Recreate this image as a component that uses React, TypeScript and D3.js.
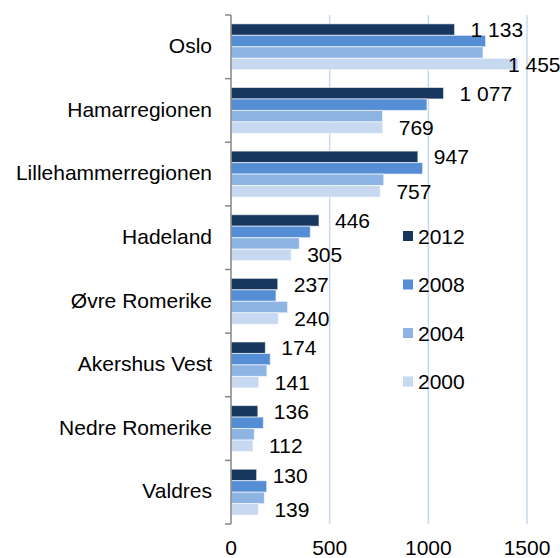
import React, { useRef, useEffect } from "react";
import * as d3 from "d3";

const categories = [
  "Oslo",
  "Hamarregionen",
  "Lillehammerregionen",
  "Hadeland",
  "Øvre Romerike",
  "Akershus Vest",
  "Nedre Romerike",
  "Valdres",
];
const seriesNames = ["2012", "2008", "2004", "2000"];
const values2012 = [1133, 1077, 947, 446, 237, 174, 136, 130];
const values2008 = [1290, 993, 971, 402, 228, 199, 164, 181];
const values2004 = [1277, 768, 774, 346, 287, 182, 118, 169];
const values2000 = [1455, 769, 757, 305, 240, 141, 112, 139];
const colors = ["#17375E", "#558ED5", "#8EB4E3", "#C6D9F1"];
const xTicks = [0, 500, 1000, 1500];

const W = 560;
const H = 558;
const FONT = "'Liberation Sans', Arial, sans-serif";

const App = () => {
  const svgRef = useRef<SVGSVGElement>(null);

  useEffect(() => {
    const svg = d3.select(svgRef.current);
    svg.selectAll("*").remove();

    const margin = { top: 15, right: 33, bottom: 34, left: 231 };
    const allSeries = [values2012, values2008, values2004, values2000];

    const x = d3
      .scaleLinear()
      .domain([0, 1500])
      .range([margin.left, W - margin.right]);

    const y = d3
      .scaleBand()
      .domain(categories)
      .range([margin.top, H - margin.bottom])
      .padding(0);

    const y1 = d3
      .scaleBand()
      .domain(seriesNames)
      .range([0, y.bandwidth()])
      .paddingInner(0)
      .paddingOuter(0.77);

    // gridlines
    svg
      .append("g")
      .selectAll("line")
      .data(xTicks.filter((t) => t > 0))
      .join("line")
      .attr("x1", (d) => x(d))
      .attr("x2", (d) => x(d))
      .attr("y1", margin.top)
      .attr("y2", H - margin.bottom)
      .attr("stroke", "#C6D9F1")
      .attr("stroke-width", 1.5);

    // bars
    const groups = svg
      .append("g")
      .selectAll("g")
      .data(categories)
      .join("g")
      .attr("transform", (d) => `translate(0,${y(d)})`);

    groups
      .selectAll("rect")
      .data((d, i) => seriesNames.map((s, j) => ({ s, j, v: allSeries[j][i] })))
      .join("rect")
      .attr("x", x(0))
      .attr("y", (d) => y1(d.s)!)
      .attr("width", (d) => x(d.v) - x(0))
      .attr("height", y1.bandwidth())
      .attr("fill", (d) => colors[d.j])
      .attr("stroke", "rgba(255,255,255,0.6)")
      .attr("stroke-width", 1);

    // data labels for 2012 and 2000
    const fmt = (v: number) => d3.format(",")(v).replace(",", " ");
    [0, 3].forEach((j) => {
      svg
        .append("g")
        .selectAll("text")
        .data(categories)
        .join("text")
        .attr("x", (d, i) => Math.min(x(allSeries[j][i]) + 16, W - 52))
        .attr("y", (d) => y(d)! + y1(seriesNames[j])! + y1.bandwidth() / 2)
        .attr("dy", "0.36em")
        .attr("font-family", FONT)
        .attr("font-size", 21)
        .attr("fill", "#000")
        .text((d, i) => fmt(allSeries[j][i]));
    });

    // y axis line and boundary ticks
    const yAxis = svg.append("g");
    yAxis
      .append("line")
      .attr("x1", x(0))
      .attr("x2", x(0))
      .attr("y1", margin.top)
      .attr("y2", H - margin.bottom)
      .attr("stroke", "#868686")
      .attr("stroke-width", 1.5);
    yAxis
      .selectAll(".tick")
      .data([...categories.map((c) => y(c)!), H - margin.bottom])
      .join("line")
      .attr("class", "tick")
      .attr("x1", x(0) - 6)
      .attr("x2", x(0))
      .attr("y1", (d) => d)
      .attr("y2", (d) => d)
      .attr("stroke", "#868686")
      .attr("stroke-width", 1.5);

    // category labels
    svg
      .append("g")
      .selectAll("text")
      .data(categories)
      .join("text")
      .attr("x", x(0) - 19)
      .attr("y", (d) => y(d)! + y.bandwidth() / 2)
      .attr("dy", "0.3em")
      .attr("text-anchor", "end")
      .attr("font-family", FONT)
      .attr("font-size", 21)
      .attr("fill", "#000")
      .text((d) => d);

    // x tick labels
    svg
      .append("g")
      .selectAll("text")
      .data(xTicks)
      .join("text")
      .attr("x", (d) => x(d))
      .attr("y", H - 3)
      .attr("text-anchor", "middle")
      .attr("font-family", FONT)
      .attr("font-size", 21)
      .attr("fill", "#000")
      .text((d) => d);

    // legend
    const legend = svg
      .append("g")
      .selectAll("g")
      .data(seriesNames)
      .join("g")
      .attr("transform", (d, i) => `translate(403,${236 + i * 48.5})`);

    legend
      .append("rect")
      .attr("x", 0)
      .attr("y", -5)
      .attr("width", 10)
      .attr("height", 10)
      .attr("fill", (d, i) => colors[i]);

    legend
      .append("text")
      .attr("x", 15)
      .attr("dy", "0.36em")
      .attr("font-family", FONT)
      .attr("font-size", 21)
      .attr("fill", "#000")
      .text((d) => d);
  }, []);

  return (
    <svg
      ref={svgRef}
      width={W}
      height={H}
      style={{ position: "fixed", left: 0, top: 0, background: "#fff" }}
    ></svg>
  );
};

export default App;
